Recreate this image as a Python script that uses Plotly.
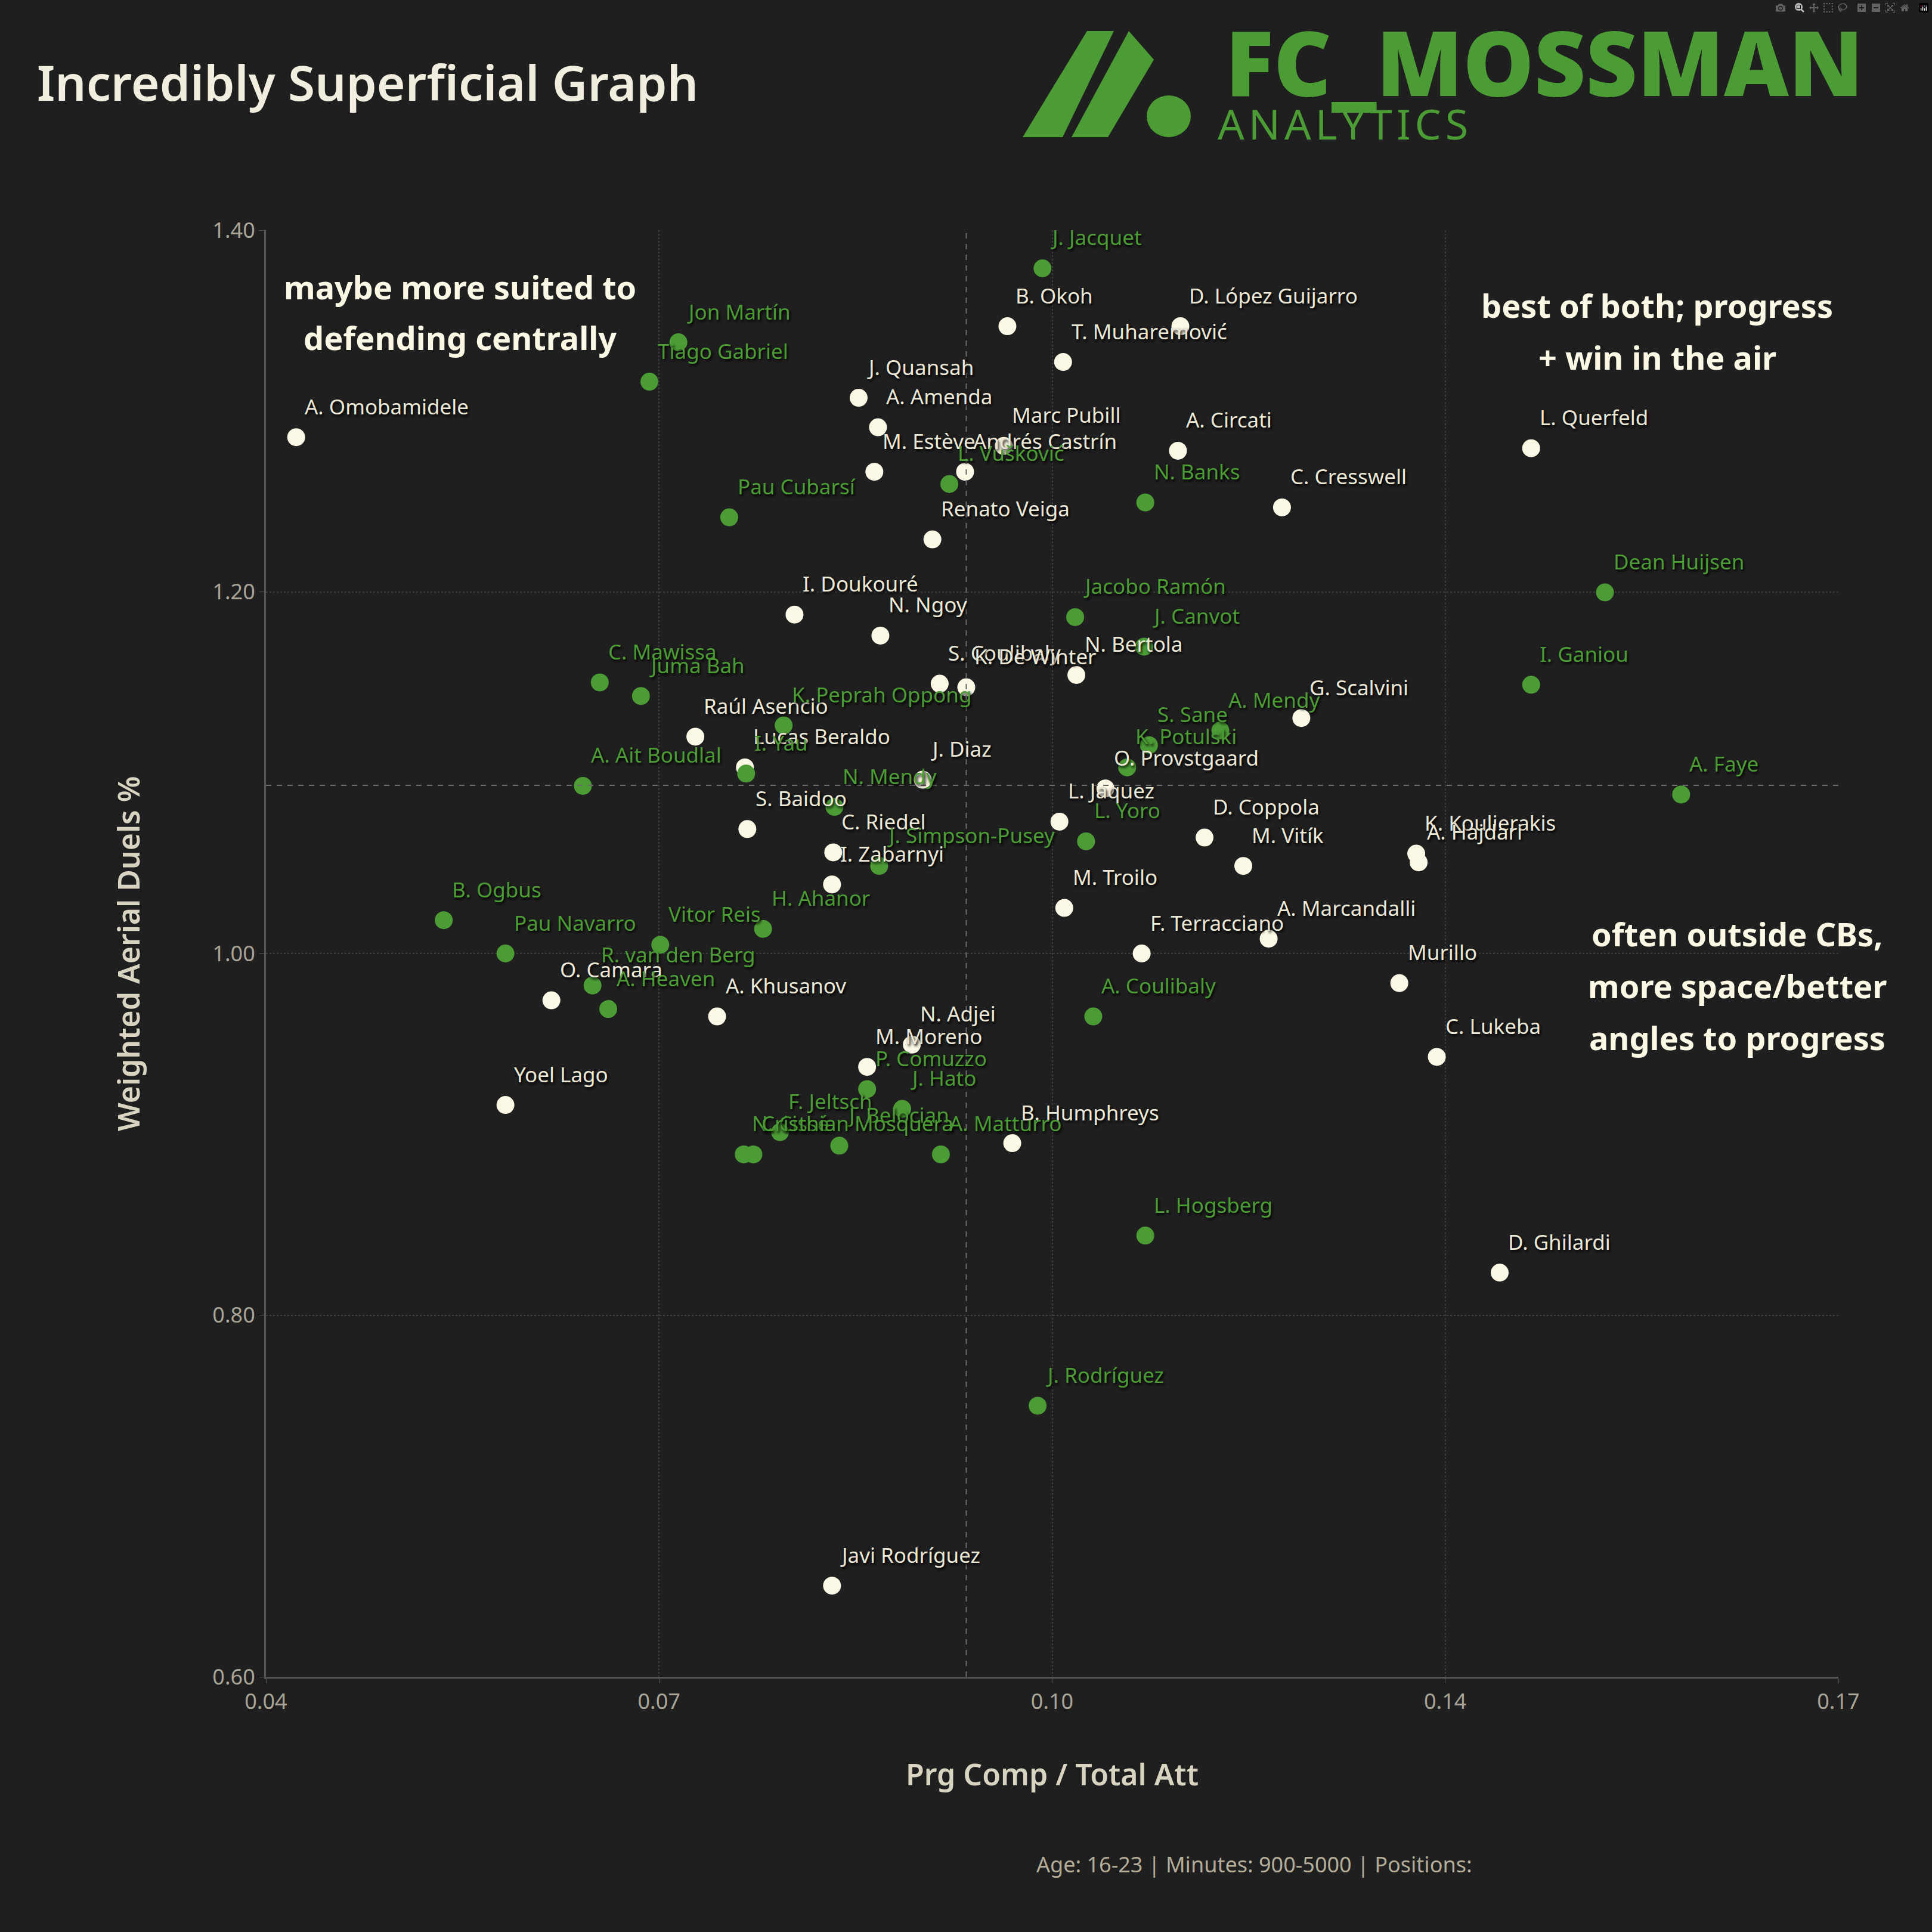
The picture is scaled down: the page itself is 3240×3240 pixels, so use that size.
import plotly.graph_objects as go

# Data: Prg Comp / Total Att (x) vs Weighted Aerial Duels % (y)
white_names = [
    "A. Omobamidele", "B. Okoh", "D. López Guijarro", "T. Muharemović", "J. Quansah",
    "A. Amenda", "Marc Pubill", "M. Estève", "Andrés Castrín", "A. Circati",
    "C. Cresswell", "Renato Veiga", "L. Querfeld", "I. Doukouré", "N. Ngoy",
    "N. Bertola", "S. Coulibaly", "K. De Winter", "Raúl Asencio", "Lucas Beraldo",
    "J. Diaz", "G. Scalvini", "O. Provstgaard", "L. Jaquez", "S. Baidoo",
    "C. Riedel", "I. Zabarnyi", "D. Coppola", "M. Vitík", "M. Troilo",
    "K. Koulierakis", "A. Hajdari", "A. Marcandalli", "F. Terracciano", "Murillo",
    "C. Lukeba", "B. Humphreys", "D. Ghilardi", "Javi Rodríguez", "O. Camara",
    "A. Khusanov", "Yoel Lago", "N. Adjei", "M. Moreno",
]
white_x = [
    0.0425, 0.1013, 0.1156, 0.1059, 0.0890,
    0.0906, 0.1010, 0.0903, 0.0978, 0.1154,
    0.1240, 0.0951, 0.1446, 0.0837, 0.0908,
    0.1070, 0.0957, 0.0979, 0.0755, 0.0796,
    0.0943, 0.1256, 0.1094, 0.1056, 0.0798,
    0.0869, 0.0868, 0.1176, 0.1208, 0.1060,
    0.1351, 0.1353, 0.1229, 0.1124, 0.1337,
    0.1368, 0.1017, 0.1420, 0.0868, 0.0636,
    0.0773, 0.0598, 0.0934, 0.0897,
]
white_y = [
    1.2855, 1.3469, 1.3469, 1.3271, 1.3073,
    1.2910, 1.2807, 1.2664, 1.2664, 1.2780,
    1.2467, 1.2290, 1.2794, 1.1874, 1.1758,
    1.1540, 1.1492, 1.1472, 1.1199, 1.1029,
    1.0961, 1.1302, 1.0913, 1.0729, 1.0688,
    1.0559, 1.0382, 1.0641, 1.0484, 1.0252,
    1.0552, 1.0504, 1.0082, 1.0000, 0.9836,
    0.9428, 0.8951, 0.8235, 0.6504, 0.9741,
    0.9652, 0.9162, 0.9496, 0.9373,
]

green_names = [
    "J. Jacquet", "Jon Martín", "Tiago Gabriel", "Pau Cubarsí", "L. Vušković",
    "N. Banks", "Jacobo Ramón", "J. Canvot", "Dean Huijsen", "I. Ganiou",
    "C. Mawissa", "Juma Bah", "K. Peprah Oppong", "I. Yau", "A. Ait Boudlal",
    "S. Sane", "A. Mendy", "K. Potulski", "N. Mendy", "L. Yoro",
    "J. Simpson-Pusey", "H. Ahanor", "A. Faye", "A. Coulibaly", "L. Hogsberg",
    "J. Rodríguez", "B. Ogbus", "Pau Navarro", "Vitor Reis", "R. van den Berg",
    "A. Heaven", "P. Comuzzo", "J. Hato", "F. Jeltsch", "J. Belocian",
    "N. Cissé", "Cristhian Mosquera", "A. Matturro",
]
green_x = [
    0.1042, 0.0741, 0.0717, 0.0783, 0.0965,
    0.1127, 0.1069, 0.1126, 0.1507, 0.1446,
    0.0676, 0.0710, 0.0828, 0.0797, 0.0662,
    0.1130, 0.1189, 0.1112, 0.0870, 0.1078,
    0.0907, 0.0811, 0.1570, 0.1084, 0.1127,
    0.1038, 0.0547, 0.0598, 0.0726, 0.0670,
    0.0683, 0.0897, 0.0926, 0.0825, 0.0874,
    0.0795, 0.0803, 0.0958,
]
green_y = [
    1.3789, 1.3380, 1.3162, 1.2412, 1.2596,
    1.2494, 1.1860, 1.1697, 1.1997, 1.1486,
    1.1499, 1.1424, 1.1261, 1.0995, 1.0927,
    1.1152, 1.1233, 1.1029, 1.0811, 1.0620,
    1.0484, 1.0136, 1.0879, 0.9652, 0.8440,
    0.7499, 1.0184, 1.0000, 1.0048, 0.9823,
    0.9693, 0.9250, 0.9141, 0.9012, 0.8937,
    0.8889, 0.8889, 0.8889,
]

# average lines
mean_x = 0.0979
mean_y = 1.093

x_ticks = [0.04, 0.0725, 0.105, 0.1375, 0.17]
x_ticktext = ["0.04", "0.07", "0.10", "0.14", "0.17"]
y_ticks = [0.6, 0.8, 1.0, 1.2, 1.4]
y_ticktext = ["0.60", "0.80", "1.00", "1.20", "1.40"]

BG = "#1f1f1f"
CREAM = "#fbf8e6"
CREAM_TXT = "#ece8d8"
GREEN = "#4c9c36"
FONT = "Noto Sans"

W = H = 3240
L, R, T, B = 446, 157, 386, 428
PW, PH = W - L - R, H - T - B


def to_paper(px, py):
    # page pixels -> paper coords
    return (px - L) / PW, (H - B - py) / PH


fig = go.Figure()
fig.add_trace(go.Scatter(x=white_x, y=white_y, mode="markers",
                         marker=dict(size=30, color=CREAM, line=dict(width=0)),
                         text=white_names, hoverinfo="text", showlegend=False))
fig.add_trace(go.Scatter(x=green_x, y=green_y, mode="markers",
                         marker=dict(size=30, color=GREEN, line=dict(width=0)),
                         text=green_names, hoverinfo="text", showlegend=False))

# player labels (top right of each point)
for names, xs, ys, col in [(white_names, white_x, white_y, CREAM_TXT),
                           (green_names, green_x, green_y, GREEN)]:
    for n, xv, yv in zip(names, xs, ys):
        fig.add_annotation(x=xv, y=yv, text=n, showarrow=False,
                           xanchor="left", yanchor="middle", xshift=12, yshift=52,
                           font=dict(family=FONT, size=35, color=col,
                                     shadow="2px 3px 4px #000000"))

fig.add_vline(x=mean_x, line=dict(color="#6a6a6a", width=2, dash="dash"))
fig.add_hline(y=mean_y, line=dict(color="#6a6a6a", width=2, dash="dash"))

# handwritten-style notes
notes = [
    ("maybe more suited to", 771, 481), ("defending centrally", 771, 566),
    ("best of both; progress", 2779, 512), ("+ win in the air", 2779, 599),
    ("often outside CBs,", 2913, 1566), ("more space/better", 2913, 1653),
    ("angles to progress", 2913, 1740),
]
for txt, px, py in notes:
    ax, ay = to_paper(px, py)
    fig.add_annotation(x=ax, y=ay, xref="paper", yref="paper", text=txt, showarrow=False,
                       xanchor="center", yanchor="middle",
                       font=dict(family=FONT, size=54, color=CREAM, weight="bold"))

# axis titles
ax, ay = to_paper(1764, 2975)
fig.add_annotation(x=ax, y=ay, xref="paper", yref="paper", text="Prg Comp / Total Att",
                   showarrow=False, xanchor="center", yanchor="middle",
                   font=dict(family=FONT, size=50, color="#d9d4c2", weight=600))
ax, ay = to_paper(215, 1599)
fig.add_annotation(x=ax, y=ay, xref="paper", yref="paper", text="Weighted Aerial Duels %",
                   showarrow=False, textangle=-90, xanchor="center", yanchor="middle",
                   font=dict(family=FONT, size=50, color="#d9d4c2", weight=600))

# footer
ax, ay = to_paper(1736, 3126)
fig.add_annotation(x=ax, y=ay, xref="paper", yref="paper", xanchor="left", yanchor="middle",
                   text="Age: 16-23 | Minutes: 900-5000 | Positions:",
                   showarrow=False, font=dict(family=FONT, size=36, color="#b3ad9a"))

# logo
ax, ay = to_paper(2590, 103)
fig.add_annotation(x=ax, y=ay, xref="paper", yref="paper", text="FC_MOSSMAN",
                   showarrow=False, xanchor="center", yanchor="middle",
                   font=dict(family=FONT, size=150, color=GREEN, weight=900))
ax, ay = to_paper(2252, 207)
fig.add_annotation(x=ax, y=ay, xref="paper", yref="paper", text="\u200a".join("ANALYTICS"),
                   showarrow=False, xanchor="center", yanchor="middle",
                   font=dict(family=FONT, size=70, color=GREEN))
logo = dict(xref="paper", yref="paper", xsizemode="pixel", ysizemode="pixel",
            xanchor=0, yanchor=1, fillcolor=GREEN, line=dict(width=0))
fig.add_shape(type="path", path="M1269,156 L1336,156 L1422,334 L1377,334 Z", **logo)
fig.add_shape(type="path", path="M1351,156 L1412,156 L1489,286 L1447,334 Z", **logo)
fig.add_shape(type="circle", x0=1477, x1=1551, y0=156, y1=226, **logo)

axis_common = dict(showgrid=True, gridcolor="#3e3e3e", gridwidth=2, griddash="dot",
                   zeroline=False, showline=True, linecolor="#555555", linewidth=3,
                   ticks="outside", ticklen=8, tickcolor="#555555",
                   tickfont=dict(family=FONT, size=36, color="#a8a498"))

fig.update_layout(
    width=W, height=H,
    margin=dict(l=L, r=R, t=T, b=B),
    paper_bgcolor=BG, plot_bgcolor=BG,
    title=dict(text="Incredibly Superficial Graph", x=62 / W, y=1 - 140 / H,
               xref="container", yref="container", xanchor="left", yanchor="middle",
               font=dict(family=FONT, size=82, color="#f2eedf", weight=600)),
    xaxis=dict(range=[0.04, 0.17], tickvals=x_ticks, ticktext=x_ticktext, **axis_common),
    yaxis=dict(range=[0.6, 1.4], tickvals=y_ticks, ticktext=y_ticktext, **axis_common),
    hovermode="closest",
)

fig.write_html("out.html", post_script="document.body.style.margin='0';")
